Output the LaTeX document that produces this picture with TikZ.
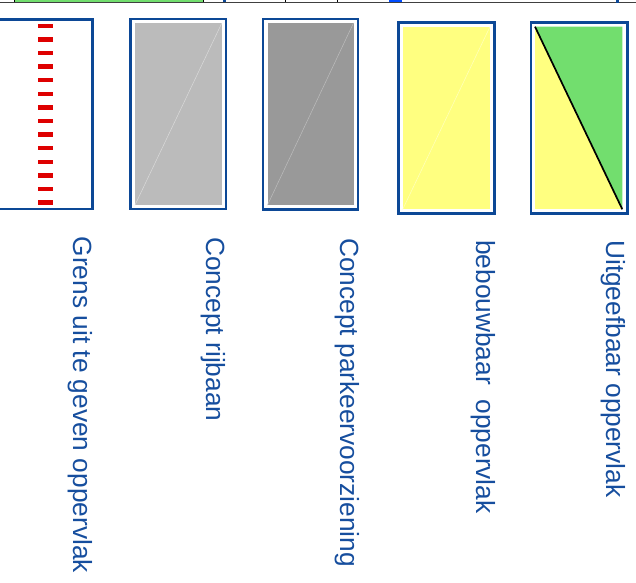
\documentclass[tikz,border=0pt]{standalone}
\usepackage{fontspec}
\setmainfont{Liberation Sans}
\definecolor{frameblue}{RGB}{12,72,150}
\definecolor{textblue}{RGB}{22,78,158}
\definecolor{lightgrey}{RGB}{187,187,187}
\definecolor{darkgrey}{RGB}{153,153,153}
\definecolor{paleyellow}{RGB}{255,255,128}
\definecolor{leafgreen}{RGB}{114,222,110}
\definecolor{dashred}{RGB}{222,0,0}
\begin{document}
\begin{tikzpicture}[x=1pt,y=-1pt,
  frame/.style={draw=frameblue,line width=2.5pt,fill=white},
  legendtext/.style={text=textblue,rotate=-90,anchor=base west,inner sep=0pt,
    font=\fontsize{26.3}{30}\selectfont},
  faint/.style={line width=0.5pt}]
\useasboundingbox (0,0) rectangle (636,582);
% top strip (cut-off drawing above)
\fill[leafgreen] (14,-1) rectangle (204,2);
\draw[black!75,line width=1pt] (0,2.3) -- (636,2.3);
\foreach \t in {14.5,203.5,285,337}{\draw[black,line width=0.8pt] (\t,-1) -- (\t,2.3);}
\fill[frameblue] (223,-1) rectangle (226,2);
\fill[blue!70!cyan] (389,-1) rectangle (402,2);
\fill[frameblue] (616,-1) rectangle (619,3);
% box 1: boundary
\draw[frame] (-3,19.5) rectangle (92.5,209);
\foreach \k in {0,...,13}{\fill[dashred] (38,{23.5+13.6*\k}) rectangle (53,{28+13.6*\k});}
% box 2: concept rijbaan
\draw[frame] (130.5,19) rectangle (226,209);
\fill[lightgrey] (135,23.3) rectangle (221.7,205);
\draw[faint,white!45!lightgrey] (135,205) -- (221.7,23.3);
% box 3: concept parkeervoorziening
\draw[frame] (263,18.8) rectangle (358,209.3);
\fill[darkgrey] (267.5,23) rectangle (353.5,205);
\draw[faint,white!35!darkgrey] (267.5,205) -- (353.5,23);
% box 4: bebouwbaar oppervlak
\draw[frame] (398.5,22.7) rectangle (494.3,213.3);
\fill[paleyellow] (402.7,26.7) rectangle (490,209.3);
\draw[faint,white!50!paleyellow] (402.7,209.3) -- (490,26.7);
% box 5: uitgeefbaar oppervlak
\draw[frame] (530.8,22.7) rectangle (627.3,213.3);
\fill[paleyellow] (535,26.7) rectangle (622.3,209.3);
\fill[leafgreen] (535,26.7) -- (622.3,26.7) -- (622.3,209.3) -- cycle;
\draw[black,line width=1.7pt] (535,26.7) -- (622.3,209.3);
% labels
\node[legendtext] (t1) at (73.5,236.5) {Grens uit te geven oppervlak};
\node[legendtext] (t2) at (206,237) {Concept rijbaan};
\node[legendtext] (t3) at (340.5,238) {Concept parkeervoorziening};
\node[legendtext] (t4) at (476,240) {bebouwbaar\ \ oppervlak};
\node[legendtext] (t5) at (606,240) {Uitgeefbaar oppervlak};
\end{tikzpicture}
\end{document}
